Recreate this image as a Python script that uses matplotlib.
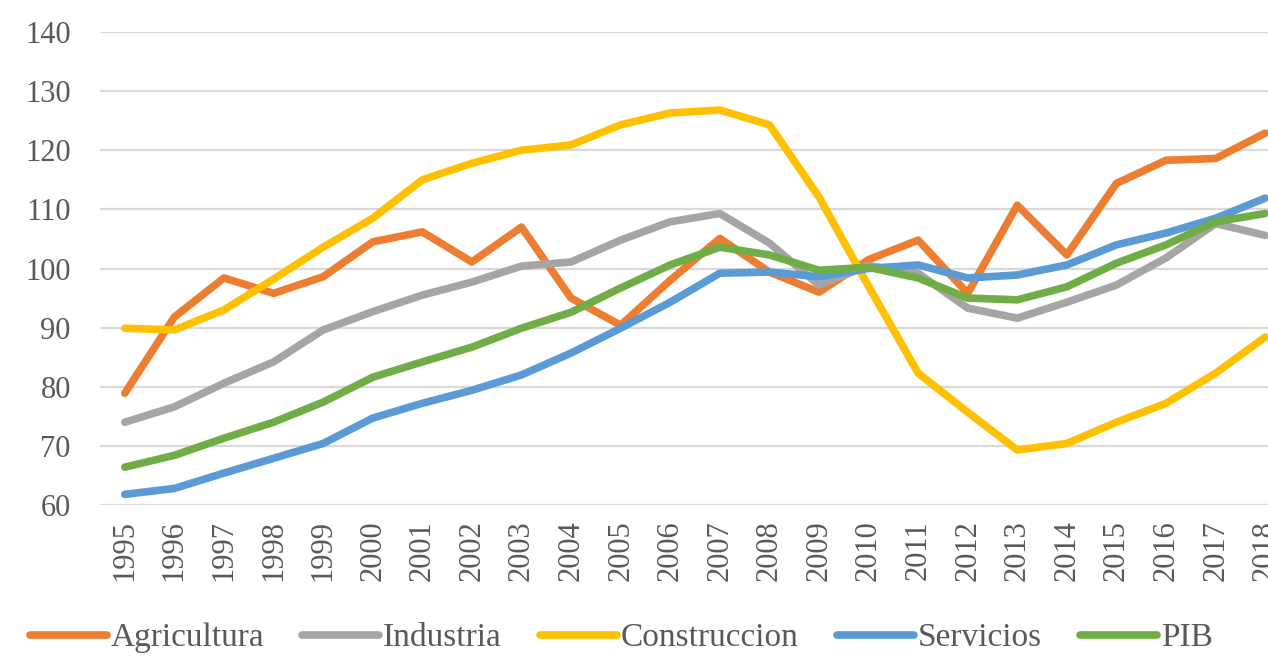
import matplotlib.pyplot as plt
from matplotlib import rc

rc('font', family=['Liberation Serif', 'DejaVu Serif'])

years = [str(y) for y in range(1995, 2019)]

agricultura = [78.9, 91.8, 98.4, 95.8, 98.6, 104.5, 106.2, 101.1, 107.0, 95.0, 90.4, 98.0,
               105.1, 99.4, 96.0, 101.5, 104.8, 95.8, 110.7, 102.3, 114.4, 118.3, 118.6, 122.9]
industria = [74.0, 76.6, 80.6, 84.2, 89.6, 92.7, 95.5, 97.7, 100.4, 101.1, 104.8, 107.9,
             109.3, 104.3, 97.2, 100.5, 99.2, 93.3, 91.6, 94.3, 97.2, 101.8, 107.6, 105.6]
construccion = [89.9, 89.6, 93.0, 98.2, 103.6, 108.5, 115.0, 117.8, 120.0, 120.9, 124.3, 126.3,
                126.8, 124.3, 112.1, 97.0, 82.3, 75.7, 69.3, 70.4, 74.0, 77.2, 82.3, 88.4]
servicios = [61.8, 62.8, 65.4, 67.9, 70.4, 74.7, 77.2, 79.4, 82.0, 85.7, 89.9, 94.3,
             99.2, 99.4, 98.6, 100.0, 100.6, 98.4, 98.9, 100.6, 104.0, 106.0, 108.5, 111.9]
pib = [66.4, 68.4, 71.3, 74.0, 77.4, 81.6, 84.2, 86.7, 89.9, 92.6, 96.7, 100.6,
       103.6, 102.3, 99.7, 100.2, 98.4, 95.0, 94.7, 96.9, 100.9, 104.0, 107.9, 109.3]

series = [
    ("Agricultura", agricultura, '#ED7D31'),
    ("Industria", industria, '#A5A5A5'),
    ("Construccion", construccion, '#FFC000'),
    ("Servicios", servicios, '#5B9BD5'),
    ("PIB", pib, '#70AD47'),
]

fig = plt.figure(figsize=(12.68, 6.6), dpi=100)
# right edge deliberately past the figure: the original is cropped on the right
ax = fig.add_axes([100 / 1268, 1 - 505 / 660, 1190 / 1268, (505 - 32) / 660])

x = list(range(len(years)))
for name, vals, col in series:
    ax.plot(x, vals, color=col, lw=5.5, label=name,
            solid_capstyle='round', solid_joinstyle='round')

ax.set_xlim(-0.5, len(years) - 0.5)
ax.set_ylim(60, 140)
ax.set_yticks(range(60, 141, 10))
ax.set_xticks(x)
ax.set_xticklabels(years, rotation=90)
ax.grid(axis='y', color='#D9D9D9', lw=1.6)
ax.set_axisbelow(True)
for s in ax.spines.values():
    s.set_visible(False)
ax.tick_params(axis='both', length=0, colors='#595959', labelsize=22)
ax.tick_params(axis='x', pad=11)
ax.tick_params(axis='y', pad=21)

fig.legend(loc='center', bbox_to_anchor=(0.49, 1 - 638 / 660), ncol=5, frameon=False,
           fontsize=24, handlelength=2.3, handletextpad=0.12, columnspacing=1.15,
           labelcolor='#595959')

fig.savefig('out.png', dpi=100)
